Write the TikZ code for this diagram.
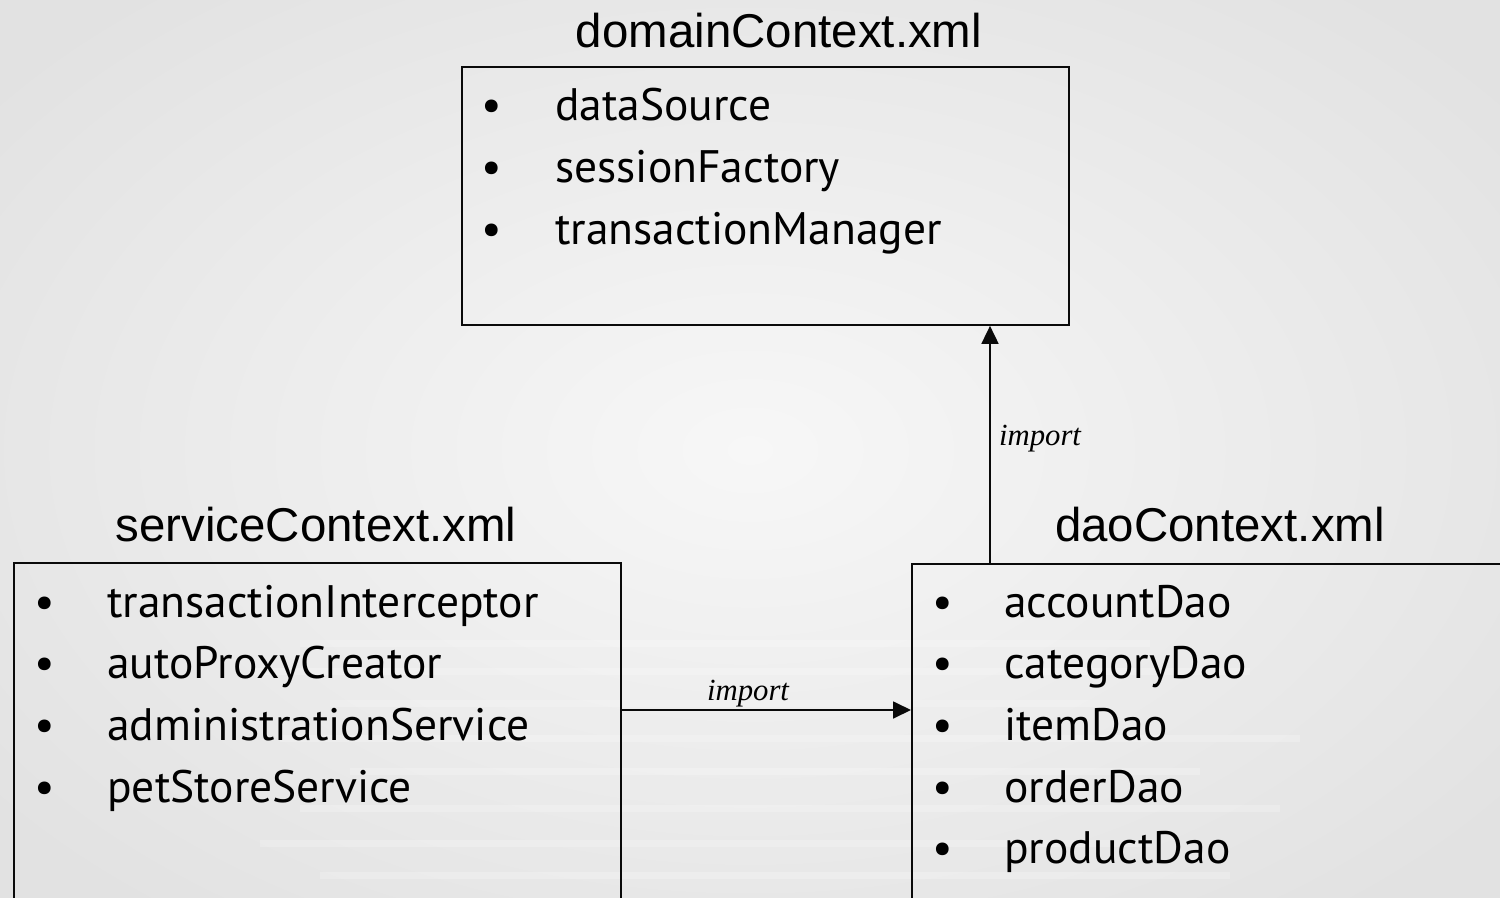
\documentclass[tikz,border=0pt]{standalone}
\usepackage{fontspec}
\setmainfont{Liberation Sans}
\newfontfamily\itemfont{PT Sans}
\newfontfamily\labelfont{Liberation Serif}
\usetikzlibrary{positioning,arrows.meta,calc}
\definecolor{cbgout}{RGB}{226,226,226}
\definecolor{cbgin}{RGB}{247,247,247}
\definecolor{cline}{RGB}{10,10,10}
\tikzset{
  ctxbox/.style={draw=cline,line width=1pt,inner sep=0pt,fill=none},
  ctxtitle/.style={font=\fontsize{27}{30}\selectfont,text=black},
  bean/.style={font=\itemfont\fontsize{25.9}{28}\selectfont,anchor=base west,inner sep=0pt},
  dot/.style={font=\itemfont\fontsize{25.9}{28}\selectfont,anchor=base,inner sep=0pt},
  implbl/.style={font=\labelfont\itshape\fontsize{17.5}{20}\selectfont},
  imparrow/.style={cline,line width=1pt,-{Triangle[length=3.6mm,width=3.4mm]}},
}
\begin{document}
\begin{tikzpicture}[x=0.02cm,y=-0.02cm]
\path[use as bounding box] (0,0) rectangle (1500,898);
\clip (0,0) rectangle (1500,898);

% ===== background =====
\shade[inner color=cbgin,outer color=cbgout] (-200,-150) rectangle (1700,1050);
\foreach \yy/\xa/\xb in {640/300/1150,668/250/1250,700/330/1100,735/280/1300,768/350/1200,805/300/1280,840/260/1150,872/320/1230}{
  \fill[white,opacity=0.22] (\xa,\yy) rectangle (\xb,\yy+7);}

% ===== domainContext.xml =====
\node[ctxbox,minimum width=12.14cm,minimum height=5.16cm] (domain) at (765.5,196) {};
\node[ctxtitle] (domaint) at (779,31) {domainContext.xml};
\foreach \n/\t [count=\k] in {ds/dataSource,sf/sessionFactory,tm/transactionManager}{
  \node[dot] at (492,{121+(\k-1)*62}) {•};
  \node[bean] (\n) at (555,{121+(\k-1)*62}) {\t};}

% ===== serviceContext.xml =====
\node[ctxbox,minimum width=12.14cm,minimum height=8.74cm] (service) at (317.5,781.5) {};
\node[ctxtitle] (servicet) at (316,525) {serviceContext.xml};
\foreach \n/\t [count=\k] in {ti/transactionInterceptor,apc/autoProxyCreator,as/administrationService,pss/petStoreService}{
  \node[dot] at (45,{617+(\k-1)*61.7}) {•};
  \node[bean] (\n) at (107,{617+(\k-1)*61.7}) {\t};}

% ===== daoContext.xml =====
\node[ctxbox,minimum width=13.78cm,minimum height=8.74cm,anchor=north west] (dao) at (911,563) {};
\node[ctxtitle] (daot) at (1220,525) {daoContext.xml};
\foreach \n/\t [count=\k] in {acc/accountDao,cat/categoryDao,itm/itemDao,ord/orderDao,prd/productDao}{
  \node[dot] at (943,{617+(\k-1)*61.7}) {•};
  \node[bean] (\n) at (1004,{617+(\k-1)*61.7}) {\t};}

% ===== imports =====
\coordinate (up) at (990,0);
\draw[imparrow] (up |- dao.north) -- (up |- domain.south);
\node[implbl] (impup) at (1040,439) {import};
\coordinate (across) at (0,710);
\draw[imparrow] (across -| service.east) -- (across -| dao.west);
\node[implbl] (impacross) at (748,694) {import};

\end{tikzpicture}
\end{document}
